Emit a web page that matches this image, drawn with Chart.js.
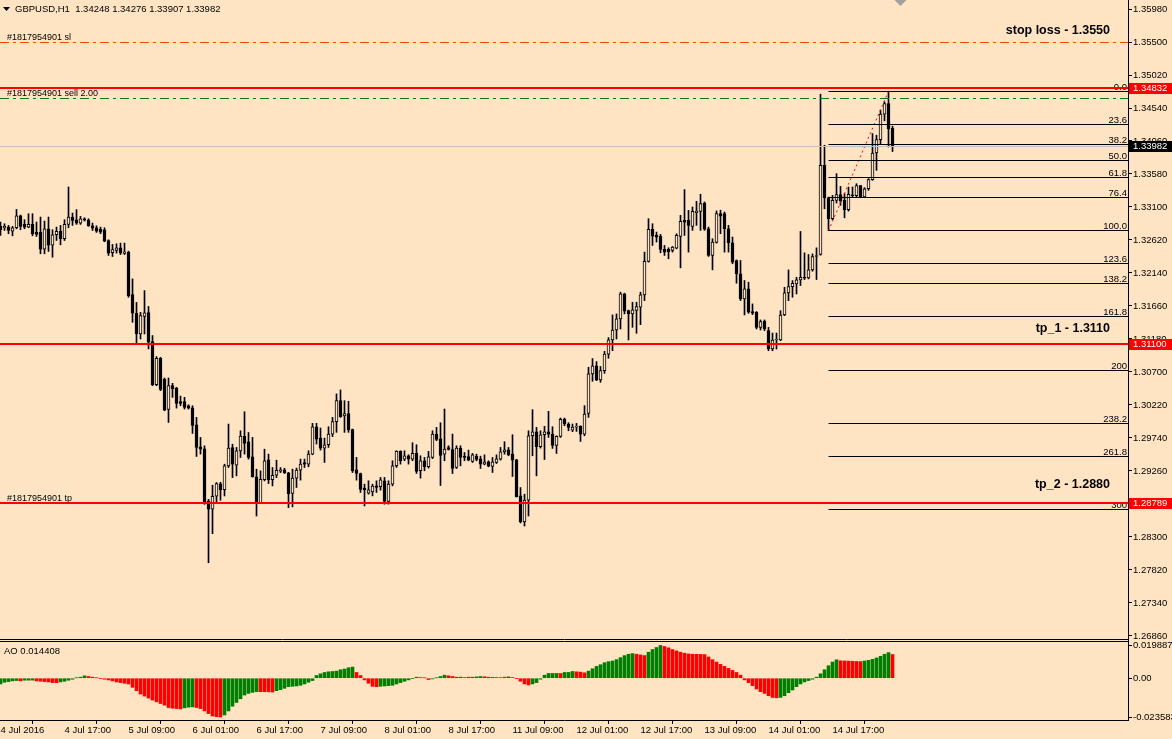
<!DOCTYPE html>
<html>
<head>
<meta charset="utf-8">
<script src="https://cdn.jsdelivr.net/npm/chart.js@4.4.0/dist/chart.umd.min.js"></script>
<style>
  html, body { margin: 0; padding: 0; background: #FFE4C4; }
  #wrap { position: relative; width: 1172px; height: 739px; background: #FFE4C4; overflow: hidden; }
  #wrap canvas { position: absolute; left: 0; top: 0; }
</style>
</head>
<body>
<div id="wrap">
  <canvas id="price" width="1172" height="739"></canvas>
  <canvas id="ao" width="1172" height="739"></canvas>
</div>
<script>
// GBPUSD H1 bars, 4 Jul 01:00 .. 15 Jul 07:00 (bar index 0..223)
var opens = [
  1.32818,1.32798,1.32803,1.32749,1.32798,1.32973,1.32847,1.32808,1.32847,1.32730,
  1.32730,1.32487,1.32783,1.32545,1.32696,1.32745,1.32638,1.32847,1.32954,1.32915,
  1.32866,1.32929,1.32910,1.32827,1.32798,1.32774,1.32769,1.32613,1.32434,1.32468,
  1.32506,1.32424,1.32443,1.31826,1.31554,1.31253,1.31510,1.31565,1.31142,1.30515,
  1.30899,1.30593,1.30156,1.30501,1.30467,1.30268,1.30268,1.30209,1.30180,1.29932,
  1.29612,1.29582,1.28824,1.28703,1.28892,1.29072,1.28989,1.29334,1.29602,1.29344,
  1.29553,1.29767,1.29684,1.29466,1.29174,1.28800,1.29135,1.29422,1.29135,1.29198,
  1.29257,1.29276,1.29232,1.28932,1.29156,1.29273,1.29384,1.29360,1.29506,1.29904,
  1.29739,1.29593,1.29642,1.29797,1.29977,1.30283,1.30060,1.30094,1.29861,1.29277,
  1.29224,1.29010,1.28937,1.28957,1.29044,1.29030,1.29117,1.28816,1.29068,1.29336,
  1.29545,1.29433,1.29481,1.29433,1.29516,1.29263,1.29409,1.29321,1.29457,1.29797,
  1.29729,1.29505,1.29602,1.29573,1.29311,1.29593,1.29471,1.29471,1.29398,1.29476,
  1.29437,1.29359,1.29393,1.29325,1.29384,1.29432,1.29539,1.29568,1.29505,1.29423,
  1.28898,1.28518,1.28835,1.29772,1.29831,1.29612,1.29787,1.29831,1.29797,1.29632,
  1.29763,1.30011,1.29943,1.29855,1.29899,1.29909,1.29797,1.30098,1.30672,1.30788,
  1.30584,1.30720,1.30960,1.31166,1.31311,1.31472,1.31836,1.31594,1.31545,1.31594,
  1.31642,1.31822,1.32308,1.32774,1.32687,1.32672,1.32483,1.32483,1.32468,1.32502,
  1.32672,1.32906,1.32906,1.32818,1.33017,1.33037,1.33158,1.32784,1.32395,1.32585,
  1.33004,1.33004,1.32784,1.32580,1.32322,1.32128,1.31763,1.31909,1.31579,1.31569,
  1.31350,1.31438,1.31301,1.31034,1.31165,1.31165,1.31529,1.31850,1.31942,1.31981,
  1.32040,1.32078,1.32069,1.32185,1.32380,1.32409,1.33706,1.33235,1.32929,1.33196,
  1.33279,1.33196,1.33060,1.33274,1.33264,1.33410,1.33245,1.33366,1.33497,1.33886,
  1.34081,1.34450,1.34605,1.34248
];
var highs = [
  1.32881,1.32856,1.32832,1.32818,1.33065,1.32983,1.32915,1.33002,1.33002,1.32881,
  1.32954,1.32895,1.32954,1.32769,1.32808,1.32832,1.32915,1.33391,1.33012,1.33061,
  1.32963,1.32944,1.32929,1.32866,1.32827,1.32808,1.32798,1.32623,1.32555,1.32565,
  1.32575,1.32575,1.32458,1.32054,1.31712,1.31568,1.31884,1.31653,1.31230,1.30924,
  1.30914,1.30613,1.30613,1.30535,1.30477,1.30350,1.30331,1.30224,1.30209,1.30039,
  1.29748,1.29626,1.28848,1.29053,1.29091,1.29096,1.29359,1.29942,1.29650,1.29602,
  1.29845,1.30122,1.29820,1.29748,1.29286,1.29262,1.29577,1.29505,1.29310,1.29417,
  1.29310,1.29300,1.29240,1.29287,1.29302,1.29433,1.29433,1.29554,1.29953,1.29953,
  1.29885,1.29739,1.29904,1.30040,1.30381,1.30439,1.30283,1.30274,1.29870,1.29457,
  1.29230,1.29068,1.29117,1.29068,1.29117,1.29166,1.29166,1.29117,1.29409,1.29554,
  1.29554,1.29554,1.29496,1.29671,1.29642,1.29481,1.29457,1.29545,1.29845,1.29894,
  1.29962,1.30161,1.29627,1.29797,1.29627,1.29627,1.29529,1.29564,1.29515,1.29505,
  1.29476,1.29495,1.29408,1.29457,1.29495,1.29602,1.29685,1.29602,1.29787,1.29430,
  1.29019,1.28922,1.29845,1.30152,1.29894,1.29845,1.29909,1.30127,1.29904,1.29772,
  1.30030,1.30030,1.29962,1.29943,1.29952,1.29918,1.30210,1.30769,1.30895,1.30851,
  1.30780,1.31000,1.31200,1.31530,1.31545,1.31861,1.31846,1.31600,1.31715,1.31715,
  1.31861,1.32444,1.32930,1.32857,1.32735,1.32701,1.32541,1.32507,1.32526,1.32711,
  1.32978,1.33353,1.33051,1.33100,1.33183,1.33285,1.33173,1.32808,1.32638,1.33043,
  1.33053,1.33027,1.32833,1.32663,1.32330,1.32322,1.32031,1.32006,1.31690,1.31579,
  1.31457,1.31457,1.31349,1.31267,1.31267,1.31592,1.31932,1.32185,1.32030,1.32078,
  1.32744,1.32433,1.32409,1.32418,1.32506,1.34741,1.33998,1.33245,1.33269,1.33585,
  1.33400,1.33293,1.33391,1.33391,1.33439,1.33415,1.33381,1.33512,1.34168,1.34144,
  1.34508,1.34630,1.34785,1.34276
];
var lows = [
  1.32686,1.32759,1.32711,1.32681,1.32783,1.32769,1.32783,1.32798,1.32681,1.32672,
  1.32419,1.32419,1.32453,1.32370,1.32613,1.32550,1.32613,1.32798,1.32832,1.32847,
  1.32847,1.32895,1.32818,1.32759,1.32730,1.32711,1.32594,1.32395,1.32380,1.32429,
  1.32409,1.32409,1.31787,1.31423,1.31117,1.31180,1.31253,1.31035,1.30501,1.30501,
  1.30428,1.30136,1.29966,1.30331,1.30175,1.30209,1.30161,1.30161,1.29806,1.29471,
  1.29505,1.28775,1.27925,1.28348,1.28814,1.28834,1.28897,1.29310,1.29164,1.29189,
  1.29456,1.29505,1.29432,1.29170,1.28605,1.28785,1.29116,1.29077,1.29043,1.29164,
  1.29237,1.29223,1.28727,1.28738,1.29020,1.29127,1.29311,1.29321,1.29496,1.29652,
  1.29564,1.29384,1.29603,1.29759,1.29822,1.30040,1.29822,1.29822,1.29238,1.29127,
  1.28947,1.28752,1.28923,1.28898,1.28947,1.28981,1.28777,1.28777,1.29044,1.29311,
  1.29360,1.29409,1.29360,1.29409,1.29224,1.29156,1.29263,1.29302,1.29440,1.29700,
  1.29048,1.29408,1.29564,1.29223,1.29296,1.29335,1.29408,1.29408,1.29384,1.29408,
  1.29296,1.29350,1.29321,1.29238,1.29369,1.29418,1.29505,1.29481,1.29180,1.28880,
  1.28504,1.28460,1.28605,1.29481,1.29189,1.29593,1.29427,1.29748,1.29588,1.29515,
  1.29748,1.29918,1.29845,1.29831,1.29836,1.29690,1.29772,1.30040,1.30565,1.30574,
  1.30550,1.30680,1.30900,1.31010,1.31180,1.31326,1.31545,1.31166,1.31350,1.31263,
  1.31389,1.31739,1.32298,1.32541,1.32590,1.32434,1.32395,1.32347,1.32444,1.32492,
  1.32215,1.32687,1.32444,1.32760,1.32833,1.32760,1.32760,1.32381,1.32186,1.32575,
  1.32711,1.32444,1.32444,1.32274,1.31992,1.31739,1.31530,1.31554,1.31535,1.31326,
  1.31311,1.31302,1.31009,1.31009,1.31034,1.31155,1.31519,1.31738,1.31787,1.31835,
  1.31957,1.32045,1.32054,1.32166,1.32045,1.32399,1.33074,1.32756,1.32914,1.33157,
  1.33123,1.32943,1.33040,1.33245,1.33245,1.33235,1.33235,1.33342,1.33488,1.33633,
  1.34022,1.34353,1.33974,1.33907
];
var closes = [
  1.32769,1.32818,1.32759,1.32798,1.32973,1.32818,1.32808,1.32847,1.32711,1.32701,
  1.32487,1.32783,1.32545,1.32696,1.32745,1.32638,1.32847,1.32954,1.32905,1.32866,
  1.32929,1.32910,1.32827,1.32793,1.32749,1.32735,1.32604,1.32429,1.32482,1.32506,
  1.32429,1.32448,1.31811,1.31554,1.31253,1.31520,1.31559,1.31133,1.30515,1.30899,
  1.30447,1.30146,1.30501,1.30457,1.30243,1.30243,1.30185,1.30175,1.29923,1.29602,
  1.29577,1.28814,1.28703,1.28892,1.29077,1.28989,1.29334,1.29592,1.29359,1.29553,
  1.29767,1.29660,1.29456,1.29179,1.28795,1.29140,1.29407,1.29135,1.29198,1.29271,
  1.29276,1.29237,1.28931,1.29156,1.29273,1.29360,1.29360,1.29506,1.29904,1.29724,
  1.29593,1.29642,1.29797,1.29977,1.30283,1.30050,1.30094,1.29856,1.29263,1.29224,
  1.28991,1.28986,1.28986,1.29039,1.29020,1.29132,1.28816,1.29068,1.29336,1.29545,
  1.29409,1.29481,1.29433,1.29516,1.29253,1.29409,1.29321,1.29467,1.29797,1.29719,
  1.29486,1.29578,1.29573,1.29296,1.29593,1.29457,1.29457,1.29418,1.29495,1.29427,
  1.29359,1.29393,1.29330,1.29393,1.29437,1.29539,1.29568,1.29495,1.29418,1.28888,
  1.28518,1.28835,1.29772,1.29831,1.29612,1.29787,1.29831,1.29797,1.29632,1.29763,
  1.30011,1.29943,1.29894,1.29899,1.29904,1.29797,1.30088,1.30672,1.30788,1.30584,
  1.30720,1.30960,1.31166,1.31311,1.31472,1.31836,1.31584,1.31545,1.31603,1.31652,
  1.31822,1.32308,1.32774,1.32677,1.32662,1.32483,1.32444,1.32449,1.32517,1.32687,
  1.32891,1.32881,1.32833,1.33037,1.33042,1.33149,1.32779,1.32395,1.32590,1.33004,
  1.32965,1.32784,1.32580,1.32298,1.32128,1.31763,1.31909,1.31569,1.31554,1.31350,
  1.31433,1.31326,1.31034,1.31165,1.31170,1.31529,1.31850,1.31942,1.31991,1.32040,
  1.32078,1.32064,1.32185,1.32380,1.32390,1.33706,1.33235,1.32929,1.33196,1.33279,
  1.33186,1.33060,1.33284,1.33264,1.33410,1.33245,1.33366,1.33497,1.33886,1.34081,
  1.34450,1.34605,1.34236,1.33982
];
// Awesome Oscillator, one value per bar
var aoValues = [
  -0.00350,-0.00246,-0.00205,-0.00164,-0.00144,-0.00164,-0.00123,-0.00120,-0.00118,-0.00164,
  -0.00185,-0.00205,-0.00226,-0.00267,-0.00270,-0.00226,-0.00185,-0.00123,-0.00062,0.00021,
  0.00062,0.00144,0.00103,0.00062,0.00021,-0.00021,-0.00062,-0.00103,-0.00164,-0.00226,
  -0.00267,-0.00308,-0.00349,-0.00554,-0.00759,-0.00964,-0.01087,-0.01210,-0.01333,-0.01435,
  -0.01538,-0.01640,-0.01784,-0.01825,-0.01845,-0.01866,-0.01804,-0.01763,-0.01743,-0.01784,
  -0.01845,-0.01989,-0.02153,-0.02300,-0.02340,-0.02358,-0.02235,-0.01989,-0.01702,-0.01476,
  -0.01251,-0.01025,-0.00923,-0.00861,-0.00820,-0.00822,-0.00825,-0.00828,-0.00840,-0.00759,
  -0.00697,-0.00615,-0.00513,-0.00492,-0.00472,-0.00431,-0.00349,-0.00246,-0.00144,0.00164,
  0.00267,0.00349,0.00390,0.00410,0.00431,0.00513,0.00554,0.00636,0.00677,0.00349,
  0.00164,-0.00103,-0.00308,-0.00492,-0.00513,-0.00492,-0.00472,-0.00451,-0.00431,-0.00349,
  -0.00267,-0.00185,-0.00103,-0.00021,0.00062,0.00041,0.00020,-0.00082,-0.00041,0.00021,
  0.00103,0.00185,0.00144,0.00103,0.00062,0.00065,0.00041,0.00062,0.00060,0.00082,
  0.00103,0.00082,0.00062,0.00050,0.00041,0.00035,0.00062,0.00082,0.00041,-0.00020,
  -0.00185,-0.00349,-0.00410,-0.00349,-0.00267,-0.00062,0.00185,0.00287,0.00290,0.00292,
  0.00285,0.00349,0.00352,0.00410,0.00390,0.00369,0.00328,0.00431,0.00574,0.00718,
  0.00820,0.00943,0.01005,0.01046,0.01128,0.01251,0.01374,0.01456,0.01497,0.01456,
  0.01415,0.01374,0.01579,0.01743,0.01866,0.01989,0.01927,0.01845,0.01743,0.01660,
  0.01579,0.01517,0.01476,0.01456,0.01450,0.01445,0.01435,0.01292,0.01128,0.00984,
  0.00841,0.00718,0.00595,0.00472,0.00349,0.00185,-0.00103,-0.00267,-0.00451,-0.00656,
  -0.00820,-0.00923,-0.01066,-0.01169,-0.01189,-0.01169,-0.01066,-0.00882,-0.00718,-0.00513,
  -0.00349,-0.00226,-0.00144,-0.00062,0.00062,0.00267,0.00513,0.00759,0.00985,0.01120,
  0.01060,0.01050,0.01040,0.01030,0.01020,0.01010,0.01046,0.01087,0.01148,0.01230,
  0.01333,0.01456,0.01558,0.01441
];

var xTickBars = [0,16,32,48,64,80,96,112,128,144,160,176,192,208];
var xTickLabels = ['4 Jul 2016','4 Jul 17:00','5 Jul 09:00','6 Jul 01:00','6 Jul 17:00','7 Jul 09:00',
  '8 Jul 01:00','8 Jul 17:00','11 Jul 09:00','12 Jul 01:00','12 Jul 17:00','13 Jul 09:00',
  '14 Jul 01:00','14 Jul 17:00'];
var priceTicks = [1.35980,1.35500,1.35020,1.34540,1.34060,1.33580,1.33100,1.32620,1.32140,1.31660,
  1.31180,1.30700,1.30220,1.29740,1.29260,1.28780,1.28300,1.27820,1.27340,1.26860];
var aoTicks = [0.019887, 0, -0.023583];

// fibonacci retracement from bar 207 low to bar 222 high
var fibLevels = [0,23.6,38.2,50,61.8,76.4,100,123.6,138.2,161.8,200,238.2,261.8,300];
var fibLabels = ['0.0','23.6','38.2','50.0','61.8','76.4','100.0','123.6','138.2','161.8','200','238.2','261.8','300'];
var fibHigh = 1.34785, fibLow = 1.32756, fibFromBar = 207, fibToBar = 222;

var slPrice = 1.35500, entryPrice = 1.34673, bidPrice = 1.33982;
var redLevels = [1.34832, 1.31100, 1.28789];
var orderLabels = [['#1817954901 sl', 1.35500], ['#1817954901 sell 2.00', 1.34673], ['#1817954901 tp', 1.28789]];
var bigTexts = [['stop loss - 1.3550', 1.35660], ['tp_1 - 1.3110', 1.31333], ['tp_2 - 1.2880', 1.29060]];
var axisMarkers = [[1.34832, '#ff0000'], [1.33982, '#000000'], [1.31100, '#ff0000'], [1.28789, '#ff0000']];
var titleText = 'GBPUSD,H1  1.34248 1.34276 1.33907 1.33982';
var aoTitle = 'AO 0.014408';

var BG = '#FFE4C4';
var FONT = '"Liberation Sans", Arial, sans-serif';
var X_MIN = -0.125, X_MAX = 281.875;

function hline(price, color, width, dash, fromX) {
  return {
    type: 'line', order: 0, crisp: true,
    data: [{x: fromX === undefined ? X_MIN : fromX, y: price}, {x: X_MAX, y: price}],
    borderColor: color, borderWidth: width, borderDash: dash || [],
    pointRadius: 0, fill: false
  };
}

var datasets = [];
datasets.push({
  type: 'bar', order: 3, grouped: false, barThickness: 1,
  data: opens.map(function(o, i) { return {x: i, y: [lows[i], highs[i]]}; }),
  backgroundColor: '#000000', borderWidth: 0
});
datasets.push({
  type: 'bar', order: 2, grouped: false, barThickness: 3, minBarLength: 1,
  data: opens.map(function(o, i) { return {x: i, y: [o, closes[i]]}; }),
  backgroundColor: opens.map(function(o, i) { return closes[i] >= o ? BG : '#000000'; }),
  borderColor: '#000000', borderWidth: 1, borderSkipped: false
});
datasets.push(hline(bidPrice, '#C0C0C0', 1));
datasets.push(hline(slPrice, '#FF4500', 1, [9, 4, 3, 4]));
datasets.push(hline(entryPrice, '#008000', 1, [9, 4, 3, 4]));
fibLevels.forEach(function(lv) {
  datasets.push(hline(fibHigh - (fibHigh - fibLow) * lv / 100, '#000000', 1, [], fibFromBar));
});
redLevels.forEach(function(p) { datasets.push(hline(p, '#FF0000', 2)); });
datasets.push({
  type: 'line', order: 0,
  data: [{x: fibFromBar, y: fibLow}, {x: fibToBar, y: fibHigh}],
  borderColor: '#FF0000', borderWidth: 1, borderDash: [2, 3], pointRadius: 0, fill: false
});

// snap horizontal level lines onto whole pixels so they stay sharp
var crispLines = {
  id: 'crispLines',
  beforeDatasetDraw: function(chart, args) {
    var ds = chart.data.datasets[args.index];
    if (!ds.crisp) return;
    var pts = args.meta.data;
    var py = pts[0].y;
    var w = ds.borderWidth;
    var target = (w % 2 === 1) ? Math.floor(py) + 0.5 : Math.round(py);
    chart.ctx.save();
    chart.ctx.translate(0, target - py);
  },
  afterDatasetDraw: function(chart, args) {
    var ds = chart.data.datasets[args.index];
    if (ds.crisp) chart.ctx.restore();
  }
};

var pricePlugin = {
  id: 'priceText',
  beforeDatasetsDraw: function(chart) {
    var ctx = chart.ctx, x = chart.scales.x, y = chart.scales.y;
    ctx.save();
    ctx.font = '9.5px ' + FONT;
    ctx.fillStyle = '#000';
    ctx.textAlign = 'right';
    ctx.textBaseline = 'alphabetic';
    fibLevels.forEach(function(lv, k) {
      var py = y.getPixelForValue(fibHigh - (fibHigh - fibLow) * lv / 100);
      ctx.fillText(fibLabels[k], x.right - 1, Math.floor(py) - 1);
    });
    ctx.restore();
  },
  afterDatasetsDraw: function(chart) {
    var ctx = chart.ctx, x = chart.scales.x, y = chart.scales.y;
    ctx.save();
    // title
    ctx.fillStyle = '#000';
    ctx.beginPath();
    ctx.moveTo(3, 7); ctx.lineTo(10, 7); ctx.lineTo(6.5, 11); ctx.closePath(); ctx.fill();
    ctx.font = '9.5px ' + FONT;
    ctx.textAlign = 'left';
    ctx.textBaseline = 'middle';
    ctx.fillText(titleText, 15, 9);
    // order labels
    ctx.font = '9px ' + FONT;
    ctx.textBaseline = 'alphabetic';
    orderLabels.forEach(function(l) {
      ctx.fillText(l[0], 7, Math.floor(y.getPixelForValue(l[1])) - 2);
    });
    // text objects
    ctx.font = 'bold 12.5px ' + FONT;
    ctx.textAlign = 'right';
    ctx.textBaseline = 'middle';
    bigTexts.forEach(function(t) {
      ctx.fillText(t[0], 1110, y.getPixelForValue(t[1]));
    });
    // chart shift marker
    var sx = x.getPixelForValue(opens.length + 1);
    ctx.fillStyle = '#A0A0A0';
    ctx.beginPath();
    ctx.moveTo(sx - 6, 0); ctx.lineTo(sx + 6, 0); ctx.lineTo(sx, 6); ctx.closePath(); ctx.fill();
    ctx.restore();
  },
  afterDraw: function(chart) {
    var ctx = chart.ctx, y = chart.scales.y, a = chart.chartArea;
    ctx.save();
    ctx.strokeStyle = '#000';
    ctx.lineWidth = 1;
    ctx.beginPath();
    ctx.moveTo(0, a.bottom + 0.5); ctx.lineTo(a.right + 1, a.bottom + 0.5);
    ctx.moveTo(a.right + 0.5, a.bottom); ctx.lineTo(a.right + 0.5, a.bottom + 3);
    ctx.stroke();
    ctx.font = '9.5px ' + FONT;
    ctx.textAlign = 'left';
    ctx.textBaseline = 'middle';
    axisMarkers.forEach(function(m) {
      var py = Math.round(y.getPixelForValue(m[0]));
      ctx.fillStyle = m[1];
      ctx.fillRect(a.right + 1, py - 5, 44, 11);
      ctx.fillStyle = '#fff';
      ctx.fillText(m[0].toFixed(5), a.right + 5, py + 0.5);
    });
    ctx.restore();
  }
};

new Chart('price', {
  type: 'bar',
  data: { datasets: datasets },
  options: {
    responsive: false, animation: false, events: [],
    layout: { padding: { top: 0, bottom: 100, left: 0, right: 0 } },
    plugins: { legend: { display: false }, tooltip: { enabled: false } },
    scales: {
      x: { type: 'linear', min: X_MIN, max: X_MAX, offset: false, display: false },
      y: {
        type: 'linear', position: 'right', min: 1.26816, max: 1.36111,
        afterBuildTicks: function(s) { s.ticks = priceTicks.map(function(v) { return {value: v}; }); },
        afterFit: function(s) { s.width = 44; s.paddingTop = 0; s.paddingBottom = 0; },
        grid: { drawOnChartArea: false, drawTicks: true, tickLength: 4, color: '#000' },
        border: { display: true, color: '#000' },
        ticks: {
          autoSkip: false, padding: 1, color: '#000',
          font: { family: FONT, size: 9.5 },
          callback: function(v) { return v.toFixed(5); }
        }
      }
    }
  },
  plugins: [crispLines, pricePlugin]
});

var aoPlugin = {
  id: 'aoText',
  afterDraw: function(chart) {
    var ctx = chart.ctx, a = chart.chartArea;
    ctx.save();
    ctx.strokeStyle = '#000';
    ctx.lineWidth = 1;
    ctx.beginPath();
    ctx.moveTo(0, a.top - 0.5); ctx.lineTo(a.right + 1, a.top - 0.5);
    ctx.stroke();
    ctx.fillStyle = '#000';
    ctx.font = '9.5px ' + FONT;
    ctx.textAlign = 'left';
    ctx.textBaseline = 'middle';
    ctx.fillText(aoTitle, 4, a.top + 9);
    ctx.restore();
  }
};

new Chart('ao', {
  type: 'bar',
  data: {
    datasets: [{
      type: 'bar', grouped: false, barThickness: 3,
      data: aoValues.map(function(v, i) { return {x: i, y: v}; }),
      backgroundColor: aoValues.map(function(v, i) {
        return (i === 0 || v > aoValues[i - 1]) ? '#008000' : '#FF0000';
      }),
      borderWidth: 0
    }]
  },
  options: {
    responsive: false, animation: false, events: [],
    layout: { padding: { top: 642, bottom: 0, left: 0, right: 0 } },
    plugins: { legend: { display: false }, tooltip: { enabled: false } },
    scales: {
      x: {
        type: 'linear', min: X_MIN, max: X_MAX, offset: false, position: 'bottom',
        afterBuildTicks: function(s) { s.ticks = xTickBars.map(function(v) { return {value: v}; }); },
        afterFit: function(s) { s.height = 19; s.paddingLeft = 0; s.paddingRight = 0; },
        grid: { drawOnChartArea: false, drawTicks: true, tickLength: 4, color: '#000' },
        border: { display: true, color: '#000' },
        ticks: {
          autoSkip: false, maxRotation: 0, align: 'start', padding: 1, color: '#000',
          font: { family: FONT, size: 9.5 },
          callback: function(v, idx) { return xTickLabels[idx]; }
        }
      },
      y: {
        type: 'linear', position: 'right', min: -0.0254, max: 0.0220,
        afterBuildTicks: function(s) { s.ticks = aoTicks.map(function(v) { return {value: v}; }); },
        afterFit: function(s) { s.width = 44; s.paddingTop = 0; s.paddingBottom = 0; },
        grid: { drawOnChartArea: false, drawTicks: true, tickLength: 4, color: '#000' },
        border: { display: true, color: '#000' },
        ticks: {
          autoSkip: false, padding: 1, color: '#000',
          font: { family: FONT, size: 9.5 },
          callback: function(v) { return v === 0 ? '0.00' : v.toFixed(6); }
        }
      }
    }
  },
  plugins: [aoPlugin]
});
</script>
</body>
</html>
